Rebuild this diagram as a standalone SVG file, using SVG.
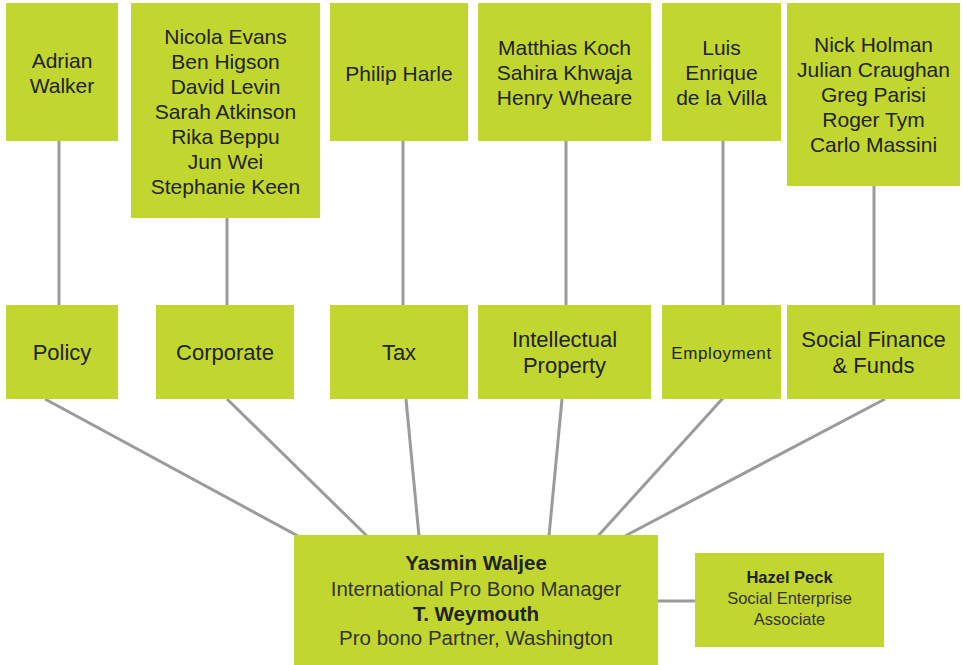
<svg xmlns="http://www.w3.org/2000/svg" width="963" height="665" viewBox="0 0 963 665">
<style>
.box{fill:#c1d72f}
.t{font-family:"Liberation Sans",Arial,sans-serif;fill:#222;text-anchor:middle}
.n{font-size:21px}
.c{font-size:22px}
.m{font-size:20.5px}
.l{fill:#333}
.b{font-weight:bold}
.s{font-size:16.5px}
.con line{stroke:#9b9b9e;stroke-width:3;fill:none}
</style>
<rect width="963" height="665" fill="#fff"/>
<g class="con" id="connectors">
<line x1="59" y1="141" x2="59" y2="305"/>
<line x1="227" y1="218" x2="227" y2="305"/>
<line x1="403" y1="141" x2="403" y2="305"/>
<line x1="566" y1="141" x2="566" y2="305"/>
<line x1="723" y1="141" x2="723" y2="305"/>
<line x1="874" y1="186" x2="874" y2="305"/>
<line x1="45" y1="399" x2="298" y2="536"/>
<line x1="227" y1="399" x2="367" y2="536"/>
<line x1="406" y1="399" x2="419" y2="536"/>
<line x1="562" y1="399" x2="549" y2="536"/>
<line x1="724" y1="397" x2="598" y2="536"/>
<line x1="885" y1="399" x2="625" y2="536"/>
<line x1="658" y1="601" x2="695" y2="601"/>
</g>
<g id="adrian"><rect class="box" x="6" y="3" width="112" height="138"/>
<text class="t n" x="62" y="68">Adrian</text><text class="t n" x="62" y="93">Walker</text></g>
<g id="corporate-team"><rect class="box" x="131" y="3" width="189" height="215"/>
<text class="t n" x="225.5" y="44">Nicola Evans</text>
<text class="t n" x="225.5" y="69">Ben Higson</text>
<text class="t n" x="225.5" y="94">David Levin</text>
<text class="t n" x="225.5" y="119">Sarah Atkinson</text>
<text class="t n" x="225.5" y="144">Rika Beppu</text>
<text class="t n" x="225.5" y="169">Jun Wei</text>
<text class="t n" x="225.5" y="194">Stephanie Keen</text></g>
<g id="philip"><rect class="box" x="330" y="3" width="138" height="138"/>
<text class="t n" x="399" y="81">Philip Harle</text></g>
<g id="ip-team"><rect class="box" x="478" y="3" width="173" height="138"/>
<text class="t n" x="564.5" y="55">Matthias Koch</text>
<text class="t n" x="564.5" y="80">Sahira Khwaja</text>
<text class="t n" x="564.5" y="105">Henry Wheare</text></g>
<g id="luis"><rect class="box" x="662" y="3" width="119" height="138"/>
<text class="t n" x="721.5" y="55">Luis</text>
<text class="t n" x="721.5" y="80">Enrique</text>
<text class="t n" x="721.5" y="105">de la Villa</text></g>
<g id="sf-team"><rect class="box" x="787" y="3" width="173" height="183"/>
<text class="t n" x="873.5" y="52">Nick Holman</text>
<text class="t n" x="873.5" y="77">Julian Craughan</text>
<text class="t n" x="873.5" y="102">Greg Parisi</text>
<text class="t n" x="873.5" y="127">Roger Tym</text>
<text class="t n" x="873.5" y="152">Carlo Massini</text></g>
<g id="policy"><rect class="box" x="6" y="305" width="112" height="94"/>
<text class="t c" x="62" y="360">Policy</text></g>
<g id="corporate"><rect class="box" x="156" y="305" width="138" height="94"/>
<text class="t c" x="225" y="360">Corporate</text></g>
<g id="tax"><rect class="box" x="330" y="305" width="138" height="94"/>
<text class="t c" x="399" y="360">Tax</text></g>
<g id="ip"><rect class="box" x="478" y="305" width="173" height="94"/>
<text class="t c" x="564.5" y="347">Intellectual</text>
<text class="t c" x="564.5" y="373">Property</text></g>
<g id="employment"><rect class="box" x="662" y="305" width="119" height="94"/>
<text class="t" x="721.5" y="359" style="font-size:17px;letter-spacing:0.6px">Employment</text></g>
<g id="social-finance"><rect class="box" x="787" y="305" width="173" height="94"/>
<text class="t c" x="873.5" y="347">Social Finance</text>
<text class="t c" x="873.5" y="373">&amp; Funds</text></g>
<g id="manager"><rect class="box" x="294" y="535" width="364" height="130"/>
<text class="t m b" x="476" y="570">Yasmin Waljee</text>
<text class="t m l" x="476" y="596">International Pro Bono Manager</text>
<text class="t m b" x="476" y="621">T. Weymouth</text>
<text class="t m l" x="476" y="645">Pro bono Partner, Washington</text></g>
<g id="hazel"><rect class="box" x="695" y="553" width="189" height="94"/>
<text class="t s b" x="789.5" y="583">Hazel Peck</text>
<text class="t s l" x="789.5" y="604">Social Enterprise</text>
<text class="t s l" x="789.5" y="625">Associate</text></g>
</svg>
